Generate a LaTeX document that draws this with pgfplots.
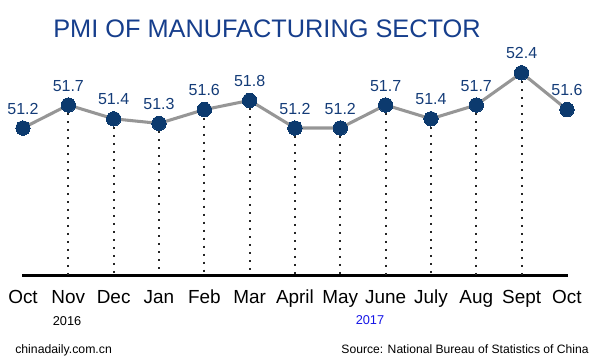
\documentclass[border=0pt]{standalone}
\usepackage{pgfplots}
\pgfplotsset{compat=1.18}
\usepackage{pgfplotstable}
\usepackage{fontspec}
\setmainfont{Liberation Sans}
\definecolor{titleblue}{RGB}{22,62,140}
\definecolor{ptblue}{RGB}{12,58,110}
\definecolor{lblblue}{RGB}{20,60,120}
\definecolor{linegray}{RGB}{150,150,150}
\definecolor{yearblue}{RGB}{20,20,230}
\pgfplotstableread{
x v
0 51.2
1 51.7
2 51.4
3 51.3
4 51.6
5 51.8
6 51.2
7 51.2
8 51.7
9 51.4
10 51.7
11 52.4
12 51.6
}\pmi
\begin{document}
\begin{tikzpicture}
\begin{axis}[
  x=34pt, y=34.5pt,
  xmin=-0.02, xmax=12.02, ymin=48, ymax=53.5,
  axis x line*=bottom, axis y line=none,
  x axis line style={line width=2.3pt, -},
  xtick={0,...,12},
  xticklabels={Oct,Nov,Dec,Jan,Feb,Mar,April,May,June,July,Aug,Sept,Oct},
  major tick length=0pt,
  xticklabel style={font=\fontsize{14.2}{16}\selectfont, anchor=base, yshift=-21pt, inner sep=0pt},
  clip=false,
]
% dotted drop lines
\addplot[draw=none, mark=none, forget plot, restrict x to domain=1:11,
  error bars/.cd, y dir=minus, y explicit,
  error bar style={draw=black!85, line width=1.5pt, dash pattern=on 1.5pt off 4.5pt},
  error mark=none]
  table[x=x, y=v, y error expr=\thisrow{v}-48] {\pmi};
% line with markers
\addplot[color=linegray, line width=2.3pt, mark=*, mark size=5.4pt,
  mark options={draw=ptblue, fill=ptblue, line width=0pt},
  nodes near coords={\pgfmathprintnumber[fixed,fixed zerofill,precision=1,assume math mode=true]{\pgfplotspointmeta}},
  every node near coord/.append style={font=\fontsize{12}{14}\selectfont, text=lblblue, anchor=base, yshift=10.5pt, inner sep=0pt}]
  table[x=x, y=v] {\pmi};
% title and annotations
\node[anchor=base west, text=titleblue, inner sep=0pt, font=\fontsize{19}{22}\selectfont] at (axis cs:0.662,53.157) {PMI OF MANUFACTURING SECTOR};
\node[anchor=base, inner sep=0pt, font=\fontsize{9.6}{11}\selectfont] at (axis cs:0.971,46.902) {2016};
\node[anchor=base, inner sep=0pt, text=yearblue, font=\fontsize{9.6}{11}\selectfont] at (axis cs:7.655,46.933) {2017};
\node[anchor=base west, inner sep=0pt, font=\fontsize{9.2}{11}\selectfont] at (axis cs:-0.176,46.287) {chinadaily.com.cn};
\node[anchor=base east, inner sep=0pt, font=\fontsize{9.1}{11}\selectfont] at (axis cs:12.486,46.287) {Source: National Bureau of Statistics of China};
\path (axis cs:-0.5074,46.070) rectangle (axis cs:12.729,53.983);
\end{axis}
\end{tikzpicture}
\end{document}
